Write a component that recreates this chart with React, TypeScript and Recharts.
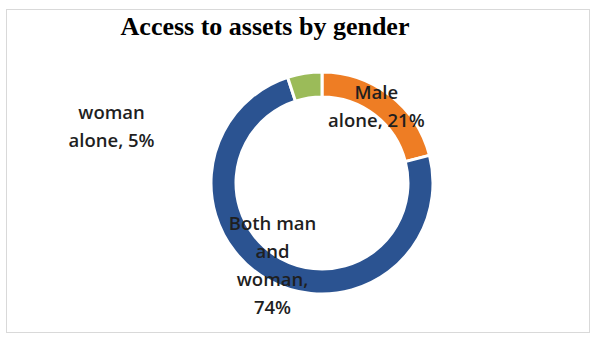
import { PieChart, Pie, Cell } from 'recharts'

const CATEGORIES = ['Male alone', 'Both man and woman', 'woman alone']
const SHARES = [21, 74, 5] // percent
const COLORS = ['#EE7D24', '#2B5391', '#9BBB59']

// how Excel wrapped each data label
const LABEL_LINES = [
  ['Male', 'alone, 21%'],
  ['Both man', 'and', 'woman,', '74%'],
  ['woman', 'alone, 5%'],
]

// the 5% label was dragged out of the ring
const LABEL_NUDGE = [
  { dx: -6, dy: 0 },
  { dx: -2, dy: -5 },
  { dx: -195, dy: 39 },
]

const data = CATEGORIES.map((name, i) => ({ name, value: SHARES[i] }))

const LINE_H = 28
const RAD = Math.PI / 180

function SliceLabel(props: any) {
  const { cx, cy, midAngle, innerRadius, outerRadius, index } = props
  const r = (innerRadius + outerRadius) / 2
  const nudge = LABEL_NUDGE[index]
  const x = cx + r * Math.cos(-midAngle * RAD) + nudge.dx
  const y = cy + r * Math.sin(-midAngle * RAD) + nudge.dy
  const lines = LABEL_LINES[index]
  const top = y - ((lines.length - 1) * LINE_H) / 2
  return (
    <text
      textAnchor="middle"
      dominantBaseline="central"
      fontFamily="'Open Sans', sans-serif"
      fontSize={18.5}
      fontWeight={600}
      fill="#1f1f1f"
    >
      {lines.map((l, k) => (
        <tspan key={k} x={x} y={top + k * LINE_H}>{l}</tspan>
      ))}
    </text>
  )
}

export default function App() {
  return (
    <div style={{ position: 'fixed', left: 0, top: 0, width: 592, height: 338, background: '#fff' }}>
      <div style={{
        position: 'absolute', left: 6, top: 9, width: 584, height: 324,
        border: '1px solid #d9d9d9', boxSizing: 'border-box',
      }} />
      <div style={{
        position: 'absolute', left: 0, top: 12, width: 530, textAlign: 'center',
        fontFamily: "'Liberation Serif', serif", fontWeight: 'bold', fontSize: 26, color: '#000',
      }}>
        Access to assets by gender
      </div>
      <div style={{ position: 'absolute', left: 0, top: 0 }}>
        <PieChart width={592} height={338}>
          <Pie
            data={data}
            dataKey="value"
            nameKey="name"
            cx={317}
            cy={178}
            innerRadius={86}
            outerRadius={111}
            startAngle={90}
            endAngle={-270}
            stroke="#fff"
            strokeWidth={3}
            label={SliceLabel}
            labelLine={false}
            isAnimationActive={false}
          >
            {data.map((d, i) => <Cell key={d.name} fill={COLORS[i]} />)}
          </Pie>
        </PieChart>
      </div>
    </div>
  )
}
